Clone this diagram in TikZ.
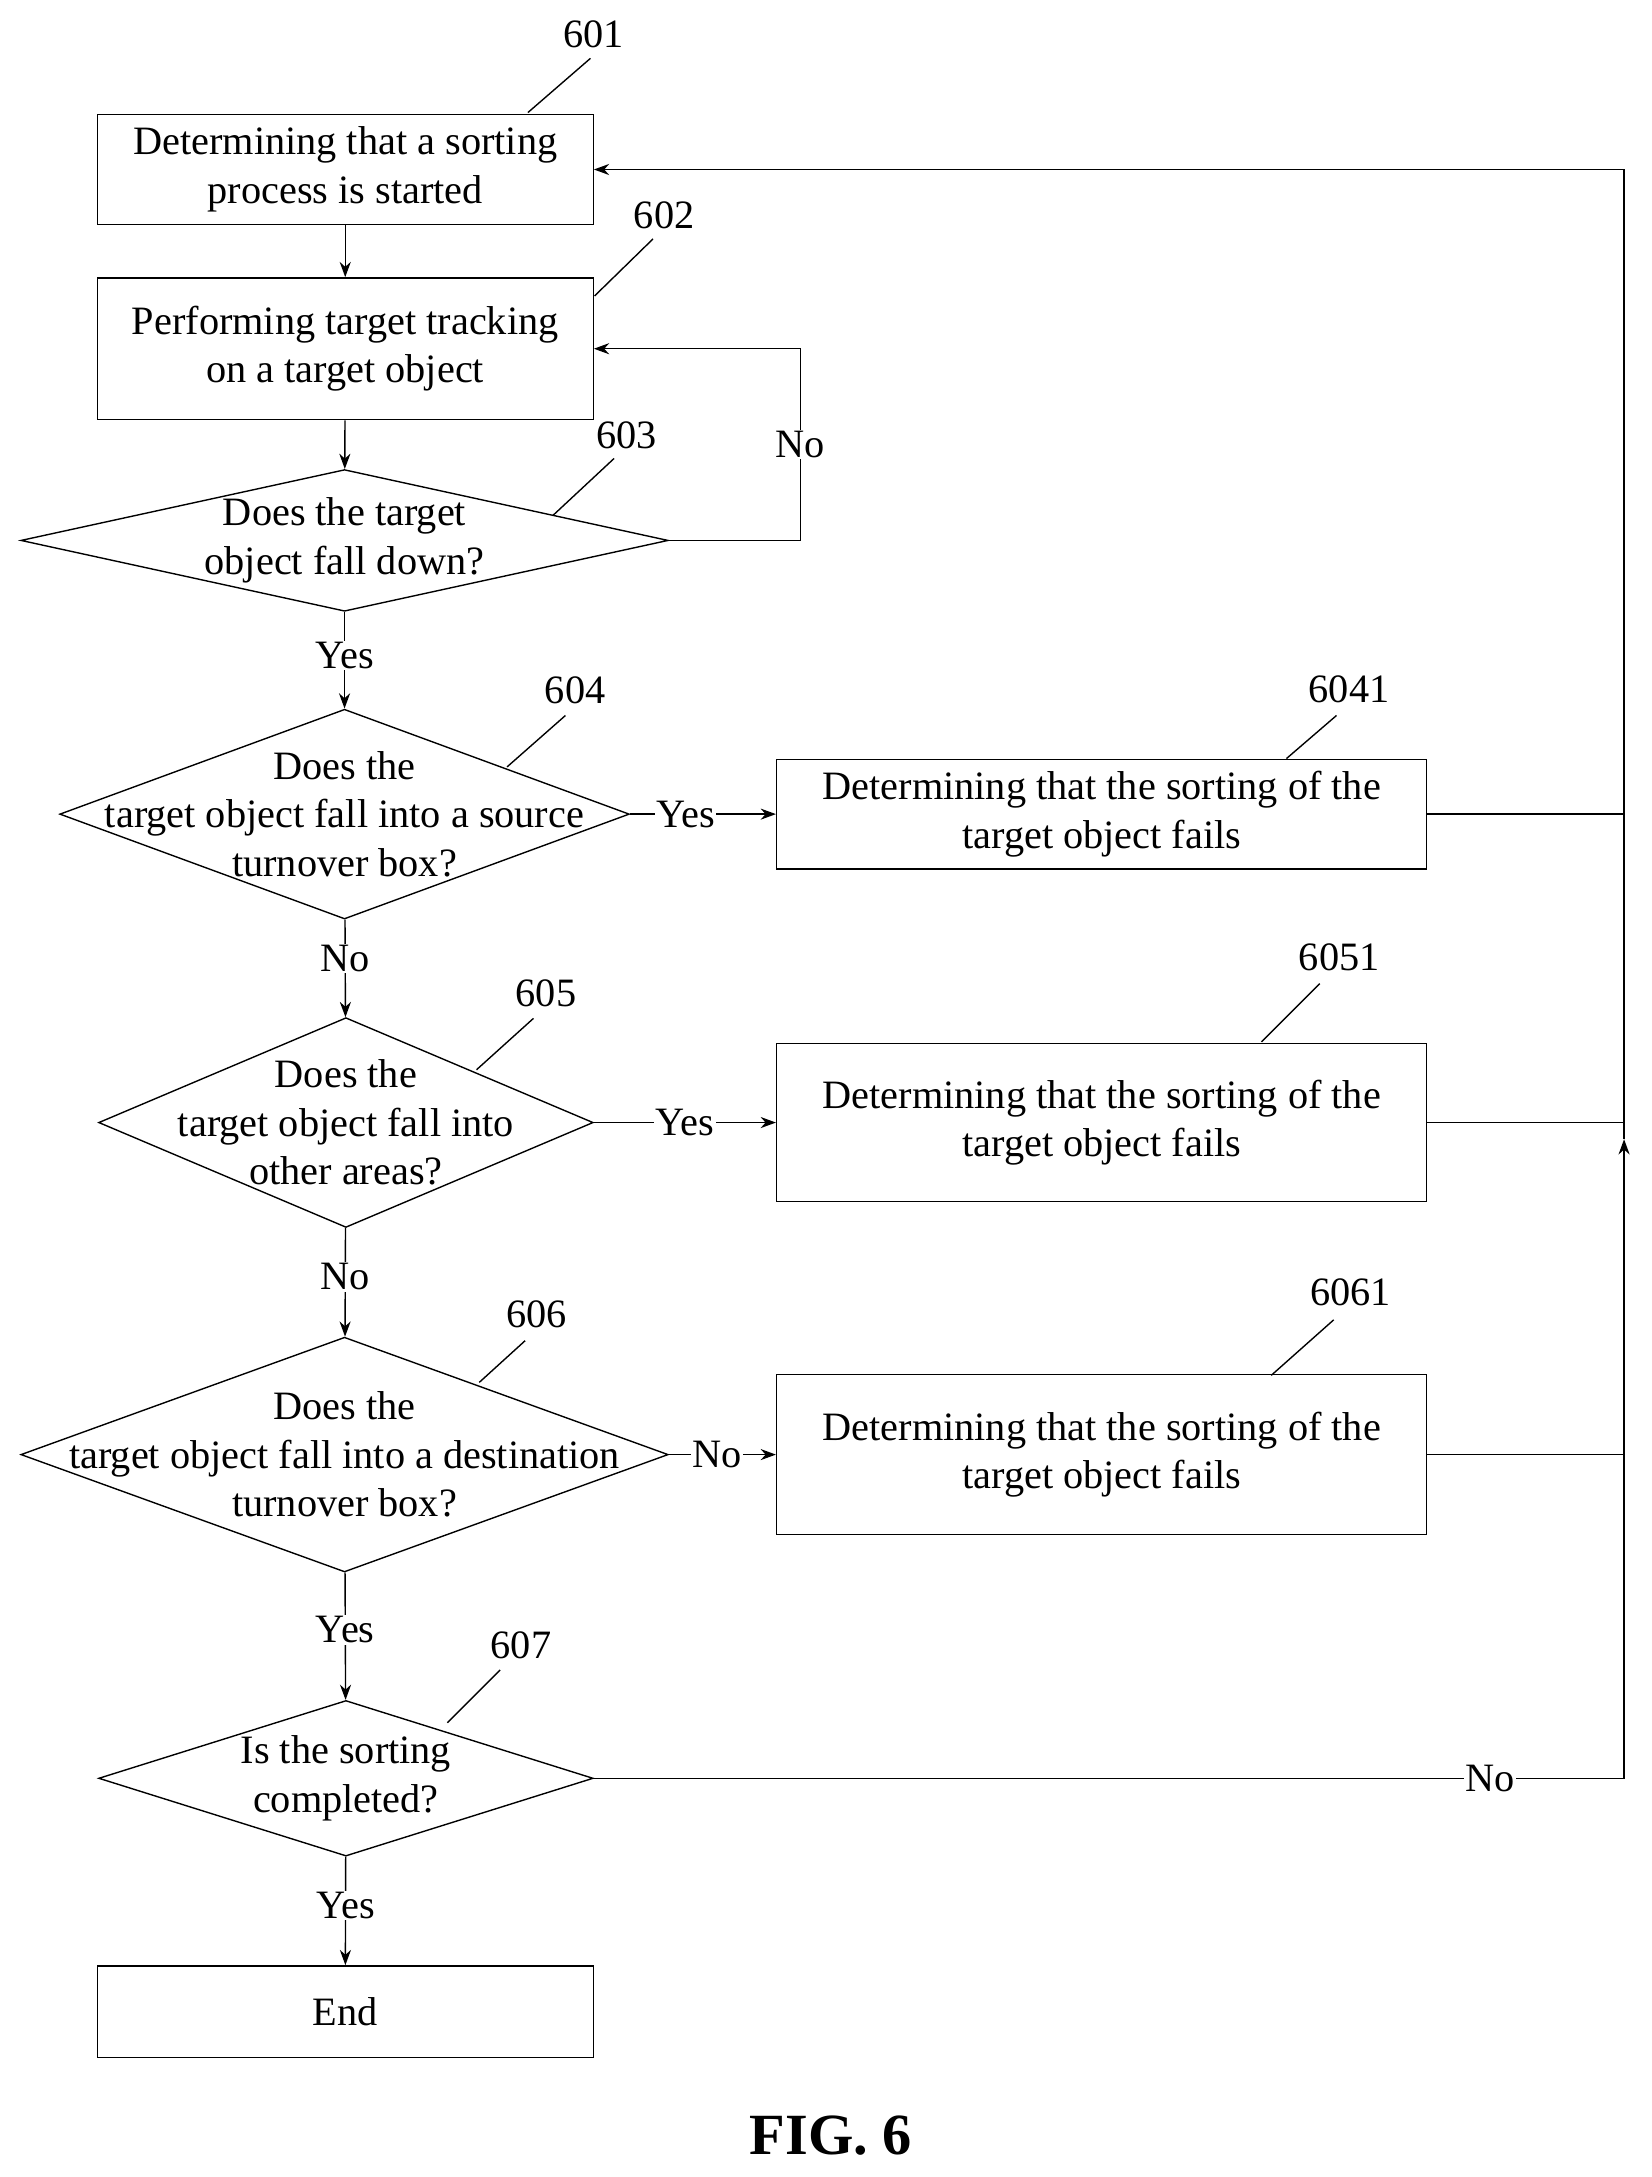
\documentclass[tikz,border=0pt]{standalone}
\usepackage{fontspec}
\setmainfont{Liberation Serif}
\usetikzlibrary{shapes.geometric,arrows.meta}
\tikzset{>={Stealth[length=11pt,width=8pt]}}
\tikzset{
  step/.style = {draw, line width=1pt, minimum height=#1, inner sep=0pt},
  decision/.style = {draw, line width=1pt, diamond, inner sep=0pt},
  txt/.style = {align=center, font=\fontsize{29}{35}\selectfont},
  lbl/.style = {font=\fontsize{29}{30}\selectfont, fill=white, inner sep=1pt},
  tag/.style = {font=\fontsize{29}{30}\selectfont}
}
\begin{document}
\begin{tikzpicture}[x=1pt,y=-1pt,line width=1pt]
  \useasboundingbox (0,0) rectangle (1189,1567);
  % boxes on the left
  \node[step=79pt, minimum width=357pt, txt] (b601) at (248.5,122) {Determining that a sorting\\process is started};
  \node[step=102pt, minimum width=357pt, txt] (b602) at (248.5,251) {Performing target tracking\\on a target object};
  \node[step=66pt, minimum width=357pt, txt] (end) at (248.5,1448) {End};
  % decisions
  \node[decision, minimum width=466pt, minimum height=102pt] (d603) at (248,389) {};
  \node[txt] at (d603) {Does the target\\object fall down?};
  \node[decision, minimum width=410pt, minimum height=151pt] (d604) at (248,586) {};
  \node[txt] at (d604) {Does the\\target object fall into a source\\turnover box?};
  \node[decision, minimum width=356pt, minimum height=151pt] (d605) at (249,808) {};
  \node[txt] at (d605) {Does the\\target object fall into\\other areas?};
  \node[decision, minimum width=466pt, minimum height=169pt] (d606) at (248,1047) {};
  \node[txt] at (d606) {Does the\\target object fall into a destination\\turnover box?};
  \node[decision, minimum width=356pt, minimum height=112pt] (d607) at (249,1280) {};
  \node[txt] at (d607) {Is the sorting\\completed?};
  % boxes on the right
  \node[step=79pt, minimum width=468pt, txt] (b6041) at (793,586) {Determining that the sorting of the\\target object fails};
  \node[step=114pt, minimum width=468pt, txt] (b6051) at (793,808) {Determining that the sorting of the\\target object fails};
  \node[step=115pt, minimum width=468pt, txt] (b6061) at (793,1047) {Determining that the sorting of the\\target object fails};
  % main column
  \draw[->] (b601) -- (b602);
  \draw[->] (b602) -- (d603);
  \draw[->] (d603) -- node[lbl, pos=0.45] {Yes} (d604);
  \draw[->] (d604) -- node[lbl, pos=0.4] {No} (d605);
  \draw[->] (d605) -- node[lbl, pos=0.45] {No} (d606);
  \draw[->] (d606) -- node[lbl, pos=0.45] {Yes} (d607);
  \draw[->] (d607) -- node[lbl, pos=0.45] {Yes} (end);
  % branches
  \draw[->] (d603.east) -- (576,389) -- node[lbl, pos=0.5] {No} (576,251) -- (b602.east |- 0,251);
  \draw[->] (d604.east) -- node[lbl, pos=0.38] {Yes} (b6041.west);
  \draw[->] (d605.east) -- node[lbl, pos=0.5] {Yes} (b6051.west);
  \draw[->] (d606.east) -- node[lbl, pos=0.45] {No} (b6061.west);
  \coordinate (ret) at (1169,122);
  \draw[->] (d607.east) -- node[lbl, pos=0.87] {No} (1169,1280) -- (1169,820);
  \draw[->] (1169,820) -- (ret) -- (b601.east |- ret);
  \draw (b6041.east) -- (1169,586);
  \draw (b6051.east) -- (1169,808);
  \draw (b6061.east) -- (1169,1047);
  % reference numbers
  \node[tag] (n601) at (427,25) {601};
  \draw (425,42) -- (380,81);
  \node[tag] (n602) at (478,155) {602};
  \draw (470,172) -- (428,213);
  \node[tag] (n603) at (451,313) {603};
  \draw (442,330) -- (398,371);
  \node[tag] (n604) at (414,497) {604};
  \draw (407,515) -- (365,552);
  \node[tag] (n605) at (393,715) {605};
  \draw (384,733) -- (343,770);
  \node[tag] (n606) at (386,946) {606};
  \draw (378,965) -- (345,995);
  \node[tag] (n607) at (375,1184) {607};
  \draw (360,1202) -- (322,1240);
  \node[tag] (n6041) at (971,496) {6041};
  \draw (962,515) -- (926,546);
  \node[tag] (n6051) at (964,689) {6051};
  \draw (950,708) -- (908,750);
  \node[tag] (n6061) at (972,930) {6061};
  \draw (960,950) -- (915,990);
  % caption
  \node[font=\fontsize{42}{44}\selectfont\bfseries] (fig) at (598,1537) {FIG. 6};
\end{tikzpicture}
\end{document}
